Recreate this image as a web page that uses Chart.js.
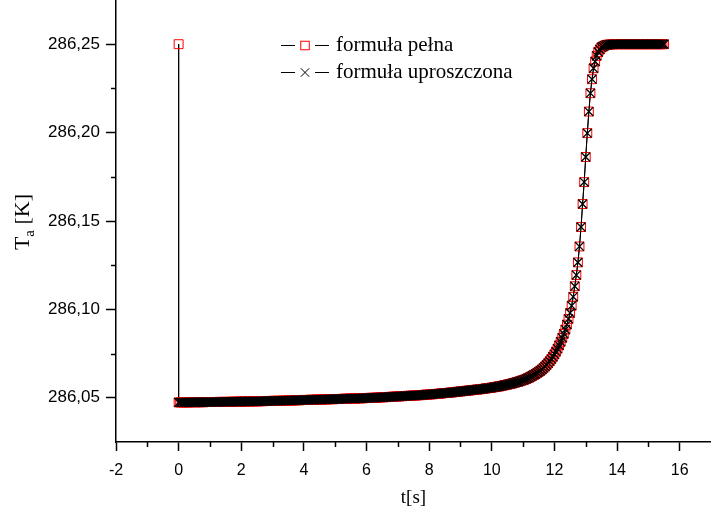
<!DOCTYPE html>
<html><head><meta charset="utf-8">
<script src="https://cdn.jsdelivr.net/npm/chart.js@4/dist/chart.umd.min.js"></script>
<style>html,body{margin:0;padding:0;background:#fff;}#wrap{width:711px;height:517px;position:relative;}</style>
</head><body><div id="wrap"><canvas id="c" width="711" height="517"></canvas></div>
<script>
// sample times [s]
const times = [
 0.00,0.05,0.10,0.15,0.20,0.25,0.30,0.35,0.40,0.45,0.50,0.55,0.60,0.65,0.70,0.75,0.80,0.85,0.90,0.95,
 1.00,1.05,1.10,1.15,1.20,1.25,1.30,1.35,1.40,1.45,1.50,1.55,1.60,1.65,1.70,1.75,1.80,1.85,1.90,1.95,
 2.00,2.05,2.10,2.15,2.20,2.25,2.30,2.35,2.40,2.45,2.50,2.55,2.60,2.65,2.70,2.75,2.80,2.85,2.90,2.95,
 3.00,3.05,3.10,3.15,3.20,3.25,3.30,3.35,3.40,3.45,3.50,3.55,3.60,3.65,3.70,3.75,3.80,3.85,3.90,3.95,
 4.00,4.05,4.10,4.15,4.20,4.25,4.30,4.35,4.40,4.45,4.50,4.55,4.60,4.65,4.70,4.75,4.80,4.85,4.90,4.95,
 5.00,5.05,5.10,5.15,5.20,5.25,5.30,5.35,5.40,5.45,5.50,5.55,5.60,5.65,5.70,5.75,5.80,5.85,5.90,5.95,
 6.00,6.05,6.10,6.15,6.20,6.25,6.30,6.35,6.40,6.45,6.50,6.55,6.60,6.65,6.70,6.75,6.80,6.85,6.90,6.95,
 7.00,7.05,7.10,7.15,7.20,7.25,7.30,7.35,7.40,7.45,7.50,7.55,7.60,7.65,7.70,7.75,7.80,7.85,7.90,7.95,
 8.00,8.05,8.10,8.15,8.20,8.25,8.30,8.35,8.40,8.45,8.50,8.55,8.60,8.65,8.70,8.75,8.80,8.85,8.90,8.95,
 9.00,9.05,9.10,9.15,9.20,9.25,9.30,9.35,9.40,9.45,9.50,9.55,9.60,9.65,9.70,9.75,9.80,9.85,9.90,9.95,
 10.00,10.05,10.10,10.15,10.20,10.25,10.30,10.35,10.40,10.45,10.50,10.55,10.60,10.65,10.70,10.75,10.80,10.85,10.90,10.95,
 11.00,11.05,11.10,11.15,11.20,11.25,11.30,11.35,11.40,11.45,11.50,
 11.55,11.60,11.65,11.70,11.75,11.80,11.85,11.90,11.95,12.00,12.05,12.10,12.15,12.20,
 12.25,12.30,12.35,12.40,12.45,12.50,12.55,12.60,12.65,12.70,12.75,12.80,12.85,12.90,12.95,
 13.00,13.05,13.10,13.15,13.20,13.25,13.30,13.35,13.40,13.45,13.50,13.55,13.60,13.65,
 13.70,13.75,13.80,13.85,
 13.90,13.95,14.00,
 14.05,14.10,14.15,14.20,14.25,14.30,14.35,14.40,14.45,14.50,14.55,14.60,14.65,14.70,14.75,
 14.80,14.85,14.90,14.95,15.00,15.05,15.10,15.15,15.20,15.25,15.30,15.35,15.40,15.45,15.50
];
// temperature values T_a [K] (both formulas give the same curve)
const tempUproszczona = [
 286.0474,286.0474,286.0474,286.0474,286.0474,286.0474,286.0474,286.0474,286.0475,286.0475,286.0475,286.0475,286.0475,286.0475,286.0475,286.0475,286.0475,286.0476,286.0476,286.0476,
 286.0476,286.0476,286.0476,286.0476,286.0476,286.0476,286.0477,286.0477,286.0477,286.0477,286.0477,286.0477,286.0477,286.0477,286.0478,286.0478,286.0478,286.0478,286.0478,286.0478,
 286.0479,286.0479,286.0479,286.0479,286.0479,286.0479,286.0480,286.0480,286.0480,286.0480,286.0480,286.0480,286.0481,286.0481,286.0481,286.0481,286.0482,286.0482,286.0482,286.0482,
 286.0483,286.0483,286.0483,286.0483,286.0483,286.0483,286.0484,286.0484,286.0484,286.0484,286.0485,286.0485,286.0485,286.0485,286.0486,286.0486,286.0486,286.0486,286.0487,286.0487,
 286.0488,286.0488,286.0488,286.0488,286.0489,286.0489,286.0489,286.0489,286.0490,286.0490,286.0490,286.0490,286.0491,286.0491,286.0491,286.0491,286.0492,286.0492,286.0492,286.0492,
 286.0493,286.0493,286.0493,286.0493,286.0494,286.0494,286.0495,286.0495,286.0495,286.0495,286.0496,286.0496,286.0496,286.0496,286.0497,286.0497,286.0497,286.0497,286.0498,286.0498,
 286.0499,286.0499,286.0500,286.0500,286.0500,286.0500,286.0501,286.0501,286.0502,286.0502,286.0503,286.0503,286.0504,286.0504,286.0505,286.0505,286.0506,286.0506,286.0507,286.0507,
 286.0508,286.0508,286.0509,286.0509,286.0510,286.0510,286.0511,286.0511,286.0512,286.0512,286.0513,286.0513,286.0514,286.0514,286.0515,286.0515,286.0516,286.0517,286.0518,286.0518,
 286.0519,286.0519,286.0520,286.0521,286.0522,286.0522,286.0523,286.0524,286.0525,286.0526,286.0527,286.0527,286.0528,286.0529,286.0530,286.0531,286.0532,286.0533,286.0534,286.0535,
 286.0536,286.0537,286.0538,286.0539,286.0540,286.0541,286.0542,286.0543,286.0544,286.0545,286.0546,286.0547,286.0548,286.0549,286.0550,286.0551,286.0553,286.0554,286.0555,286.0556,
 286.0558,286.0559,286.0561,286.0562,286.0564,286.0565,286.0567,286.0569,286.0571,286.0573,286.0575,286.0577,286.0579,286.0581,286.0584,286.0586,286.0589,286.0591,286.0594,286.0597,
 286.0600,286.0603,286.0607,286.0611,286.0615,286.0620,286.0625,286.0630,286.0635,286.0641,286.0647,
 286.0653,286.0660,286.0668,286.0677,286.0686,286.0696,286.0707,286.0719,286.0732,286.0746,286.0761,286.0778,286.0797,286.0817,
 286.0839,286.0862,286.0886,286.0914,286.0946,286.0980,286.1021,286.1071,286.1131,286.1194,286.1266,286.1356,286.1466,286.1596,286.1720,
 286.1862,286.1997,286.2119,286.2223,286.2302,286.2364,286.2402,286.2434,286.2456,286.2470,286.2482,286.2487,286.2492,286.2495,
 286.2497,286.2498,286.2499,286.2499,
 286.2500,286.2500,286.2500,
 286.2500,286.2500,286.2500,286.2500,286.2500,286.2500,286.2500,286.2500,286.2500,286.2500,286.2500,286.2500,286.2500,286.2500,286.2500,
 286.2500,286.2500,286.2500,286.2500,286.2500,286.2500,286.2500,286.2500,286.2500,286.2500,286.2500,286.2500,286.2500,286.2500,286.2500
];
// the full formula starts from the initial value at t = 0
const startPelnaTime = 0;
const startPelnaTemp = 286.25;

const seriesNames = ['formuła pełna', 'formuła uproszczona'];
const xTickLabels = [-2, 0, 2, 4, 6, 8, 10, 12, 14, 16];
const xMinorTicks = [-1, 1, 3, 5, 7, 9, 11, 13, 15];
const yTickLabels = [286.05, 286.10, 286.15, 286.20, 286.25];
const yMinorTicks = [286.075, 286.125, 286.175, 286.225];

const ptsUpr = times.map((t, i) => ({x: t, y: tempUproszczona[i]}));
const ptsPel = [{x: startPelnaTime, y: startPelnaTemp}].concat(ptsUpr.map(p => ({x: p.x, y: p.y})));

const minorTicksPlugin = {
  id: 'minorTicks',
  afterDraw(chart) {
    const ctx = chart.ctx, xs = chart.scales.x, ys = chart.scales.y;
    const ca = chart.chartArea;
    ctx.save();
    ctx.strokeStyle = '#000'; ctx.lineWidth = 1.5;
    xMinorTicks.forEach(v => {
      const px = Math.round(xs.getPixelForValue(v)) + 0.5;
      ctx.beginPath(); ctx.moveTo(px, ca.bottom); ctx.lineTo(px, ca.bottom + 5); ctx.stroke();
    });
    yMinorTicks.forEach(v => {
      const py = Math.round(ys.getPixelForValue(v)) + 0.5;
      ctx.beginPath(); ctx.moveTo(ca.left, py); ctx.lineTo(ca.left - 5, py); ctx.stroke();
    });
    ctx.restore();
  }
};

const titlesLegendPlugin = {
  id: 'titlesLegend',
  afterDraw(chart) {
    const ctx = chart.ctx;
    ctx.save();
    ctx.fillStyle = '#000';
    ctx.translate(29, 222);
    ctx.rotate(-Math.PI / 2);
    const big = '22px "Liberation Serif", "Times New Roman", serif';
    const small = '15px "Liberation Serif", "Times New Roman", serif';
    ctx.font = big;
    const wT = ctx.measureText('T').width;
    ctx.font = small;
    const wa = ctx.measureText('a').width;
    ctx.font = big;
    const wK = ctx.measureText(' [K]').width;
    const total = wT + wa + wK;
    const x0 = -total / 2;
    ctx.textBaseline = 'alphabetic';
    ctx.textAlign = 'left';
    ctx.fillText('T', x0, 0);
    ctx.font = small;
    ctx.fillText('a', x0 + wT, 5);
    ctx.font = big;
    ctx.fillText(' [K]', x0 + wT + wa, 0);
    ctx.restore();

    ctx.save();
    const rows = [45, 72];
    ctx.lineWidth = 1;
    rows.forEach((y, i) => {
      ctx.strokeStyle = '#000';
      ctx.beginPath();
      ctx.moveTo(281, y + 0.5); ctx.lineTo(295, y + 0.5);
      ctx.moveTo(315, y + 0.5); ctx.lineTo(329, y + 0.5);
      ctx.stroke();
      const cx = 305, cy = y + 0.5;
      if (i === 0) {
        ctx.strokeStyle = '#ff0000';
        ctx.strokeRect(cx - 4.25, cy - 4.25, 8.5, 8.5);
      } else {
        ctx.strokeStyle = '#000';
        ctx.beginPath();
        ctx.moveTo(cx - 4.25, cy - 4.25); ctx.lineTo(cx + 4.25, cy + 4.25);
        ctx.moveTo(cx + 4.25, cy - 4.25); ctx.lineTo(cx - 4.25, cy + 4.25);
        ctx.stroke();
      }
      ctx.fillStyle = '#000';
      ctx.font = '21px "Liberation Serif", "Times New Roman", serif';
      ctx.textBaseline = 'middle';
      ctx.textAlign = 'left';
      ctx.fillText(seriesNames[i], 336, y);
    });
    ctx.restore();
  }
};

new Chart(document.getElementById('c'), {
  type: 'scatter',
  data: {
    datasets: [
      {
        label: seriesNames[0],
        data: ptsPel,
        showLine: true,
        borderColor: '#000',
        borderWidth: 1,
        pointStyle: 'rect',
        pointRadius: 6.3,
        pointBorderColor: '#ff0000',
        pointBackgroundColor: 'rgba(0,0,0,0)',
        pointBorderWidth: 1,
        order: 2
      },
      {
        label: seriesNames[1],
        data: ptsUpr,
        showLine: true,
        borderColor: '#000',
        borderWidth: 1,
        pointStyle: 'crossRot',
        pointRadius: 6.3,
        pointBorderColor: '#000',
        pointBackgroundColor: 'rgba(0,0,0,0)',
        pointBorderWidth: 1.3,
        order: 1
      }
    ]
  },
  options: {
    responsive: false,
    animation: false,
    devicePixelRatio: 1,
    layout: {padding: 0, autoPadding: false},
    plugins: {legend: {display: false}, tooltip: {enabled: false}},
    scales: {
      x: {
        type: 'linear',
        min: -2, max: 17,
        afterFit: s => { s.height = 75; s.paddingLeft = 0; s.paddingRight = 0; },
        afterBuildTicks: s => { s.ticks = xTickLabels.map(v => ({value: v})); },
        grid: {display: true, drawOnChartArea: false, drawTicks: true, tickLength: 9, tickColor: '#000', tickWidth: 1.5},
        border: {display: true, color: '#000', width: 1.5},
        ticks: {
          color: '#000', padding: 10,
          font: {family: '"Liberation Sans", Arial, sans-serif', size: 16},
          callback: v => String(v),
          maxRotation: 0, autoSkip: false
        },
        title: {
          display: true, text: 't[s]', color: '#000',
          font: {family: '"Liberation Serif", "Times New Roman", serif', size: 19},
          padding: {top: 0, bottom: 8}
        }
      },
      y: {
        type: 'linear',
        min: 286.025, max: 286.275,
        afterFit: s => { s.width = 116; s.paddingTop = 0; s.paddingBottom = 0; },
        afterBuildTicks: s => { s.ticks = yTickLabels.map(v => ({value: v})); },
        grid: {display: true, drawOnChartArea: false, drawTicks: true, tickLength: 10, tickColor: '#000', tickWidth: 1.5},
        border: {display: true, color: '#000', width: 1.5},
        ticks: {
          color: '#000', padding: 6,
          font: {family: '"Liberation Sans", Arial, sans-serif', size: 17},
          callback: v => v.toFixed(2).replace('.', ','),
          autoSkip: false
        }
      }
    }
  },
  plugins: [minorTicksPlugin, titlesLegendPlugin]
});
</script>
</body></html>
